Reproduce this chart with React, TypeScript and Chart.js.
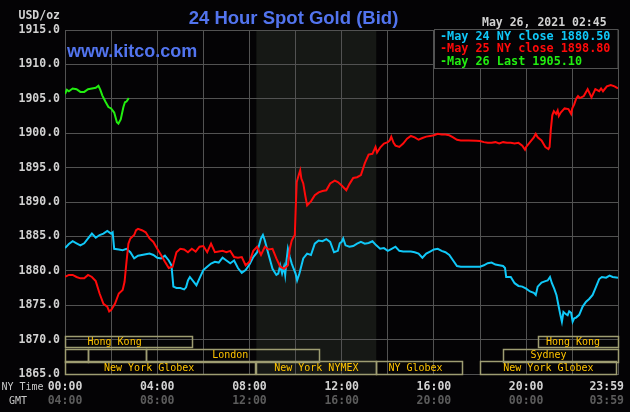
import React, { useEffect, useRef } from 'react';
import { Chart, registerables } from 'chart.js';

Chart.register(...registerables);

// ---------- data ----------
const blueTimes = ['00:00','00:10','00:20','00:30','00:40','00:50','01:00','01:10','01:20','01:30','01:40','01:50','02:00','02:04','02:08','02:20','02:30','02:40','02:50','03:00','03:10','03:20','03:30','03:40','03:50','04:00','04:10','04:20','04:30','04:37','04:42','04:50','05:00','05:10','05:15','05:20','05:25','05:35','05:42','05:50','06:00','06:10','06:20','06:30','06:40','06:50','07:00','07:10','07:20','07:30','07:40','07:50','08:00','08:10','08:20','08:30','08:35','08:40','08:50','09:00','09:10','09:15','09:20','09:25','09:30','09:33','09:36','09:40','09:45','09:50','09:55','10:00','10:04','10:10','10:20','10:30','10:40','10:50','11:00','11:10','11:20','11:30','11:40','11:50','11:55','12:00','12:04','12:10','12:20','12:30','12:40','12:50','13:00','13:10','13:20','13:30','13:40','13:50','14:00','14:10','14:20','14:30','14:40','14:50','15:00','15:10','15:20','15:30','15:40','15:50','16:00','16:10','16:20','16:30','16:40','16:50','17:00','17:10','17:30','17:50','18:00','18:10','18:20','18:30','18:40','18:50','19:00','19:05','19:08','19:20','19:30','19:40','19:50','20:00','20:10','20:20','20:25','20:30','20:40','20:50','20:56','21:02','21:07','21:13','21:19','21:24','21:29','21:33','21:37','21:42','21:48','21:52','21:57','22:01','22:05','22:10','22:18','22:27','22:36','22:44','22:53','23:02','23:10','23:17','23:28','23:37','23:45','23:59'];
const blueValues = [1883.3,1883.9,1884.3,1884.0,1883.7,1884.0,1884.7,1885.4,1884.8,1885.2,1885.4,1885.8,1885.4,1885.6,1883.2,1883.1,1883.0,1883.2,1882.7,1881.8,1882.2,1882.3,1882.4,1882.5,1882.3,1881.9,1881.8,1882.2,1881.5,1880.8,1877.7,1877.5,1877.5,1877.3,1877.6,1878.6,1879.1,1878.4,1877.9,1878.9,1880.1,1880.6,1881.05,1881.3,1881.2,1881.9,1881.5,1881.1,1881.5,1880.4,1879.7,1880.1,1880.9,1882.0,1882.7,1884.7,1885.2,1884.4,1882.3,1880.3,1879.4,1879.6,1880.8,1879.6,1880.6,1879.4,1881.3,1883.2,1882.0,1881.05,1880.3,1879.6,1878.6,1879.6,1881.8,1882.5,1882.3,1883.95,1884.4,1884.3,1884.6,1884.2,1882.7,1882.9,1884.0,1884.2,1884.7,1883.7,1883.5,1883.6,1883.95,1884.2,1883.95,1884.05,1884.3,1883.7,1883.2,1883.3,1882.9,1883.2,1883.5,1882.9,1882.8,1882.8,1882.8,1882.7,1882.5,1881.9,1882.5,1882.8,1883.1,1883.2,1882.9,1882.7,1882.3,1881.5,1880.7,1880.6,1880.6,1880.6,1880.6,1880.8,1881.1,1881.2,1880.9,1880.8,1880.7,1880.4,1879.1,1879.1,1878.2,1877.8,1877.7,1877.4,1877.0,1876.8,1876.5,1877.7,1878.3,1878.5,1878.6,1879.1,1878.2,1877.4,1876.45,1875.0,1873.6,1872.6,1874.0,1873.75,1873.55,1874.1,1873.9,1872.6,1873.1,1873.2,1873.6,1874.8,1875.5,1875.9,1876.5,1877.7,1878.8,1879.1,1879.0,1879.3,1879.1,1879.0];

const redTimes = ['00:00','00:10','00:20','00:30','00:40','00:50','01:00','01:10','01:20','01:30','01:40','01:50','01:55','02:00','02:10','02:20','02:30','02:35','02:40','02:45','02:50','03:00','03:05','03:10','03:20','03:30','03:40','03:50','04:00','04:10','04:20','04:30','04:40','04:50','05:00','05:10','05:20','05:30','05:40','05:50','06:00','06:10','06:20','06:30','06:40','06:50','07:00','07:10','07:20','07:30','07:40','07:50','08:00','08:10','08:20','08:30','08:40','08:50','09:00','09:10','09:20','09:30','09:40','09:45','09:50','09:55','09:58','10:00','10:03','10:08','10:12','10:15','10:20','10:25','10:30','10:40','10:50','11:00','11:10','11:20','11:30','11:42','11:50','12:00','12:12','12:20','12:30','12:40','12:50','13:00','13:10','13:20','13:28','13:32','13:40','13:50','14:00','14:05','14:09','14:15','14:20','14:30','14:40','14:50','15:00','15:10','15:20','15:30','15:40','15:50','16:00','16:10','16:20','16:30','16:40','16:50','17:00','17:10','17:30','17:50','18:00','18:10','18:20','18:30','18:40','18:50','19:00','19:10','19:20','19:30','19:40','19:50','19:57','20:00','20:10','20:20','20:25','20:30','20:40','20:50','20:58','21:01','21:04','21:08','21:12','21:18','21:22','21:25','21:30','21:40','21:50','21:57','22:00','22:05','22:10','22:15','22:20','22:30','22:40','22:50','23:00','23:10','23:15','23:20','23:30','23:40','23:50','23:59'];
const redValues = [1879.1,1879.4,1879.4,1879.1,1878.9,1878.9,1879.4,1879.1,1878.5,1876.7,1875.2,1874.8,1874.1,1874.3,1875.2,1876.7,1877.2,1878.4,1881.3,1883.95,1884.7,1885.2,1885.9,1886.1,1885.9,1885.6,1884.7,1884.2,1883.2,1882.3,1881.3,1880.4,1880.6,1882.7,1883.2,1883.1,1882.7,1883.2,1882.8,1883.5,1883.6,1882.7,1883.95,1882.7,1882.8,1882.9,1882.7,1882.9,1882.0,1881.9,1882.0,1880.8,1881.3,1882.9,1883.5,1882.3,1883.5,1883.1,1883.2,1881.8,1880.6,1880.3,1880.8,1883.2,1884.4,1884.9,1885.2,1888.5,1892.9,1893.9,1894.6,1893.4,1892.7,1891.0,1889.5,1890.1,1891.0,1891.4,1891.6,1891.7,1892.7,1893.1,1892.9,1892.4,1891.7,1892.6,1893.5,1893.6,1893.9,1895.6,1896.9,1897.0,1898.0,1897.2,1897.9,1898.5,1898.7,1898.95,1899.5,1898.6,1898.2,1898.0,1898.5,1899.2,1899.6,1899.4,1899.05,1899.3,1899.5,1899.6,1899.7,1899.9,1899.8,1899.8,1899.7,1899.4,1899.05,1898.95,1898.95,1898.9,1898.85,1898.7,1898.6,1898.6,1898.7,1898.5,1898.7,1898.6,1898.6,1898.5,1898.6,1898.2,1897.6,1898.0,1898.7,1899.4,1899.9,1899.4,1898.95,1898.0,1897.7,1898.0,1900.4,1902.6,1903.2,1902.8,1903.3,1902.5,1903.0,1903.6,1903.5,1902.8,1903.6,1904.2,1905.0,1905.4,1905.1,1905.4,1906.4,1905.2,1906.4,1906.1,1906.5,1906.1,1906.8,1907.0,1906.8,1906.5];

const greenTimes = ['00:00','00:05','00:10','00:20','00:30','00:40','00:50','01:00','01:10','01:20','01:27','01:32','01:37','01:45','01:53','02:00','02:08','02:15','02:19','02:25','02:32','02:36','02:40','02:46'];
const greenValues = [1905.7,1906.3,1906.1,1906.5,1906.4,1906.0,1906.0,1906.4,1906.5,1906.6,1906.9,1906.3,1905.5,1904.6,1903.8,1903.6,1903.0,1901.6,1901.4,1902.0,1903.8,1904.5,1904.6,1905.1];

const legendLabels = ['May 24 NY close 1880.50', 'May 25 NY close 1898.80', 'May 26 Last 1905.10'];
const seriesColors = ['#10c8f8', '#ff0a0a', '#22ee10'];

const yTickValues = [1865, 1870, 1875, 1880, 1885, 1890, 1895, 1900, 1905, 1910, 1915];
const xGridTimes = ['00:00','02:00','04:00','06:00','08:00','10:00','12:00','14:00','16:00','18:00','20:00','22:00','23:59'];
const xLabelTimes = ['00:00','04:00','08:00','12:00','16:00','20:00','23:59'];
const nyTimeLabels = ['00:00','04:00','08:00','12:00','16:00','20:00','23:59'];
const gmtLabels = ['04:00','08:00','12:00','16:00','20:00','00:00','03:59'];

const nymexShade = ['08:18', '13:30'];

// row: 1 top, 2 middle, 3 bottom
const sessionRows = [1, 1, 2, 2, 2, 2, 3, 3, 3, 3];
const sessionLabels = ['Hong Kong', 'Hong Kong', '', '', 'London', 'Sydney', 'New York Globex', 'New York NYMEX', 'NY Globex', 'New York Globex'];
const sessionStarts = ['00:00', '20:30', '00:00', '01:00', '03:30', '19:00', '00:00', '08:18', '13:30', '18:00'];
const sessionEnds = ['05:30', '23:59', '01:00', '03:30', '11:00', '23:59', '08:15', '13:30', '17:15', '23:55'];
const sessionTextAt = ['02:09', '22:02', '', '', '07:10', '20:58', '03:39', '10:54', '15:12', '20:58'];

const titleText = '24 Hour Spot Gold (Bid)';
const siteText = 'www.kitco.com';
const dateText = 'May 26, 2021 02:45';
const unitText = 'USD/oz';

// ---------- helpers ----------
const toMin = (s: string) => parseInt(s.slice(0, 2), 10) * 60 + parseInt(s.slice(3, 5), 10);
const BG = '#040305';
const GRID = '#525252';
const MONO = "'DejaVu Sans Mono', monospace";
const SANS = "'Liberation Sans', Arial, sans-serif";

const rowBox: Record<number, [number, number]> = {
  1: [38.5, 28],
  2: [25.5, 13],
  3: [13, 0.5],
};
const rowBaseline: Record<number, number> = { 1: 29.5, 2: 15.7, 3: 3 };

const decorPlugin = {
  id: 'kitcoDecor',
  beforeDraw(chart: any) {
    const { ctx, chartArea: a } = chart;
    const x = chart.scales.x;
    ctx.save();
    ctx.fillStyle = BG;
    ctx.fillRect(0, 0, chart.width, chart.height);
    const x0 = x.getPixelForValue(toMin(nymexShade[0]));
    const x1 = x.getPixelForValue(toMin(nymexShade[1]));
    ctx.fillStyle = '#161815';
    ctx.fillRect(x0, a.top, x1 - x0, a.bottom - a.top);
    ctx.restore();
  },
  afterDraw(chart: any) {
    const { ctx, chartArea: a } = chart;
    const x = chart.scales.x;
    ctx.save();

    // market sessions
    ctx.lineWidth = 1.5;
    ctx.strokeStyle = '#9e9d72';
    ctx.font = `10px ${MONO}`;
    ctx.fillStyle = '#ffc400';
    ctx.textAlign = 'center';
    ctx.textBaseline = 'alphabetic';
    for (let i = 0; i < sessionRows.length; i++) {
      const r = sessionRows[i];
      const xs = x.getPixelForValue(toMin(sessionStarts[i]));
      const xe = x.getPixelForValue(toMin(sessionEnds[i]));
      const top = a.bottom - rowBox[r][0];
      const bot = a.bottom - rowBox[r][1];
      ctx.strokeRect(Math.round(xs) + 0.5, Math.round(top) + 0.5, Math.round(xe - xs), Math.round(bot - top));
      if (sessionLabels[i]) {
        const xt = x.getPixelForValue(toMin(sessionTextAt[i]));
        ctx.fillText(sessionLabels[i], xt, a.bottom - rowBaseline[r]);
      }
    }

    // legend box
    const lx = 434.5, ly = a.top - 0.5, lw = a.right - 434.5, lh = 39;
    ctx.fillStyle = BG;
    ctx.fillRect(lx, ly, lw, lh);
    ctx.strokeStyle = GRID;
    ctx.lineWidth = 1;
    ctx.strokeRect(lx, ly, lw, lh);
    ctx.font = `bold 11.8px ${MONO}`;
    ctx.textAlign = 'left';
    legendLabels.forEach((t, i) => {
      ctx.fillStyle = seriesColors[i];
      ctx.fillText('-' + t, 440, a.top + 9.5 + i * 12.8);
    });

    // title + site
    ctx.fillStyle = '#5274ee';
    ctx.font = `bold 18.5px ${SANS}`;
    ctx.textAlign = 'center';
    ctx.fillText(titleText, 293.5, 24);
    ctx.font = `bold 18px ${SANS}`;
    ctx.textAlign = 'left';
    ctx.fillText(siteText, 67, 57);

    // date, units
    ctx.font = `bold 11.5px ${MONO}`;
    ctx.fillStyle = '#d2d2d2';
    ctx.textAlign = 'left';
    ctx.fillText(dateText, 482, 26);
    ctx.textAlign = 'right';
    ctx.fillText(unitText, 60, 19);

    // x labels
    ctx.font = `10px ${MONO}`;
    ctx.fillStyle = '#c8c8c8';
    ctx.textAlign = 'left';
    ctx.fillText('NY Time', 1.5, 390);
    ctx.fillText('GMT', 9, 403.5);
    ctx.font = `bold 11.5px ${MONO}`;
    xLabelTimes.forEach((t, i) => {
      const px = x.getPixelForValue(toMin(t));
      const last = i === xLabelTimes.length - 1;
      ctx.textAlign = last ? 'right' : 'center';
      const tx = last ? chart.width - 6 : px;
      ctx.fillStyle = '#d2d2d2';
      ctx.fillText(nyTimeLabels[i], tx, 389.5);
      ctx.fillStyle = '#5c5c5c';
      ctx.fillText(gmtLabels[i], tx, 403.5);
    });
    ctx.restore();
  },
};

function toPoints(times: string[], values: number[]) {
  return times.map((t, i) => ({ x: toMin(t), y: values[i] }));
}

export default function App() {
  const ref = useRef<HTMLCanvasElement | null>(null);
  useEffect(() => {
    if (!ref.current) return;
    const mk = (label: string, pts: any[], color: string) => ({
      label,
      data: pts,
      borderColor: color,
      backgroundColor: color,
      borderWidth: 2,
      pointRadius: 0,
      tension: 0,
      fill: false,
    });
    const chart = new Chart(ref.current, {
      type: 'line',
      data: {
        datasets: [
          mk(legendLabels[2], toPoints(greenTimes, greenValues), seriesColors[2]),
          mk(legendLabels[1], toPoints(redTimes, redValues), seriesColors[1]),
          mk(legendLabels[0], toPoints(blueTimes, blueValues), seriesColors[0]),
        ],
      },
      options: {
        animation: false,
        responsive: false,
        devicePixelRatio: 1,
        layout: { padding: { top: 30, right: 12, left: 0, bottom: 0 } },
        plugins: {
          legend: { display: false },
          title: { display: false },
          tooltip: { enabled: false },
        },
        scales: {
          x: {
            type: 'linear',
            min: 0,
            max: 1439,
            afterBuildTicks: (s: any) => {
              s.ticks = xGridTimes.map((t) => ({ value: toMin(t) }));
            },
            afterFit: (s: any) => {
              s.height = 38;
            },
            ticks: { display: false },
            grid: { color: GRID, lineWidth: 1, drawTicks: false },
            border: { display: true, color: GRID },
          },
          y: {
            type: 'linear',
            min: 1865,
            max: 1915,
            afterBuildTicks: (s: any) => {
              s.ticks = yTickValues.map((v) => ({ value: v }));
            },
            afterFit: (s: any) => {
              s.width = 65;
            },
            ticks: {
              color: '#d2d2d2',
              padding: 5,
              font: { family: MONO, size: 11.5, weight: 'bold' },
              callback: (v: any) => Number(v).toFixed(1),
            },
            grid: { color: GRID, lineWidth: 1, drawTicks: false },
            border: { display: true, color: GRID },
          },
        },
      } as any,
      plugins: [decorPlugin],
    });
    return () => chart.destroy();
  }, []);
  return (
    <div style={{ position: 'fixed', left: 0, top: 0, width: 630, height: 412, background: BG }}>
      <canvas ref={ref} width={630} height={412} style={{ display: 'block', width: 630, height: 412 }} />
    </div>
  );
}
